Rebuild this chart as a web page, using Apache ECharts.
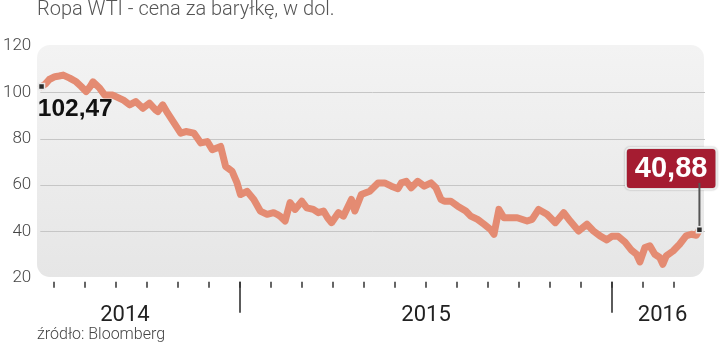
<!DOCTYPE html>
<html>
<head>
<meta charset="utf-8">
<script src="https://cdn.jsdelivr.net/npm/echarts@6/dist/echarts.min.js"></script>
<style>
html,body{margin:0;padding:0;background:#fff;}
#chart{width:720px;height:347px;}
</style>
</head>
<body>
<div id="chart"></div>
<script>
// x = month index counted from January 2014 (12 = Jan 2015, 24 = Jan 2016)
const months = [5.59,5.71,5.84,6.02,6.16,6.29,6.50,6.71,6.87,7.03,7.16,7.25,7.47,7.63,7.89,8.11,8.25,8.43,8.63,8.86,
  9.07,9.27,9.34,9.50,9.66,9.87,10.08,10.25,10.51,10.73,10.94,11.10,11.37,11.53,11.74,11.90,12.01,12.22,12.44,12.65,
  12.87,13.08,13.19,13.29,13.45,13.61,13.77,13.99,14.15,14.36,14.52,14.69,14.82,14.95,15.17,15.33,15.59,15.70,15.91,16.18,
  16.45,16.66,16.88,17.09,17.20,17.36,17.52,17.73,17.94,18.16,18.32,18.48,18.59,18.80,19.02,19.28,19.44,19.66,19.87,20.08,
  20.19,20.35,20.51,20.73,20.94,21.26,21.42,21.63,21.90,22.17,22.44,22.65,22.92,23.19,23.40,23.61,23.83,23.99,24.20,24.42,
  24.63,24.79,24.90,25.06,25.22,25.38,25.54,25.64,25.75,25.97,26.18,26.39,26.56,26.72,26.82];
// WTI price, USD per barrel
const prices = [102.47,103.5,105.5,106.7,107.0,107.4,106.1,104.5,102.5,100.3,102.5,104.5,101.7,98.8,98.8,97.4,96.5,94.6,96.0,93.1,
  95.3,92.4,91.7,94.6,91.0,86.7,82.4,83.1,82.4,78.2,78.8,75.3,76.7,68.1,66.0,61.0,56.0,57.4,53.9,48.9,
  47.5,48.2,47.5,46.7,44.6,52.5,49.6,53.1,50.3,49.6,48.2,48.9,46.0,43.9,48.2,46.7,53.9,48.9,56.0,57.4,
  61.0,61.0,59.6,58.5,61.0,61.7,58.9,61.7,59.6,61.0,58.9,53.9,53.1,53.1,51.0,48.9,46.7,45.3,43.2,41.0,
  38.9,49.6,46.0,46.0,46.0,44.6,45.3,49.6,47.5,43.9,48.2,44.6,40.3,43.2,40.3,38.2,36.5,38.0,38.0,35.5,
  32.0,30.3,27.0,33.2,33.9,30.3,28.9,26.0,29.6,31.7,34.6,38.2,38.9,38.5,40.88];
const monthTicks = [6,7,8,9,10,11,12,13,14,15,16,17,18,19,20,21,22,23,24,25,26];
const yearTicks = [12,24];
const yearLabelPos = [8.28,18,25.63];
const yearLabels = ['2014','2015','2016'];

const lineData = months.map((m,i)=>[m, prices[i]]);
const last = lineData.length - 1;
const fmt = v => v.toFixed(2).replace('.', ',');

const chart = echarts.init(document.getElementById('chart'), null, {renderer:'canvas'});
const xMin = 5.55, xMax = 27.0;
const markerStyle = {color:'#2b2b2b', borderColor:'#e8e8e8', borderWidth:1.5, opacity:1};

chart.setOption({
  animation:false,
  title:[
    {text:'Ropa WTI - cena za baryłkę, w dol.', left:37, top:0, padding:0,
     textStyle:{fontFamily:'Roboto', fontWeight:300, fontSize:20, color:'#555'}},
    {text:'źródło: Bloomberg', left:37, top:327, padding:0,
     textStyle:{fontFamily:'Roboto', fontWeight:300, fontSize:16, color:'#444'}}
  ],
  graphic:[{
    type:'rect', z:-10, silent:true,
    shape:{x:37, y:45, width:667, height:232, r:13},
    style:{fill:new echarts.graphic.LinearGradient(0,0,0,1,[
      {offset:0,color:'#f3f3f3'},{offset:1,color:'#e6e6e6'}])}
  }],
  grid:{left:37, right:15, top:45.8, bottom:68.8},
  xAxis:[{
    type:'value', min:xMin, max:xMax, offset:3.5,
    axisLine:{show:false},
    splitLine:{show:false},
    axisTick:{show:true, customValues:monthTicks, length:6, lineStyle:{color:'#333', width:1.5}},
    axisLabel:{show:true, customValues:yearLabelPos, margin:23,
      formatter:v => { const i = yearLabelPos.findIndex(p=>Math.abs(p-v)<0.01); return i<0?'':yearLabels[i]; },
      fontFamily:'Roboto', fontSize:22, color:'#222'}
  },{
    type:'value', min:xMin, max:xMax, offset:3.5, position:'bottom',
    axisLine:{show:false}, splitLine:{show:false},
    axisTick:{show:true, customValues:yearTicks, length:31, lineStyle:{color:'#333', width:1.6}},
    axisLabel:{show:false}
  }],
  yAxis:{
    type:'value', min:20, max:120, interval:20,
    axisLine:{show:false}, axisTick:{show:false},
    splitLine:{show:true, lineStyle:{color:['transparent','#c6c6c6','#c6c6c6','#c6c6c6','#c6c6c6','transparent'], width:1}},
    axisLabel:{margin:9, padding:[5,0,0,0], fontFamily:'Roboto', fontWeight:300, fontSize:17, color:'#444'}
  },
  series:[
    {type:'line', data:lineData, showSymbol:false, z:3,
     lineStyle:{width:7, color:'#e48b72', cap:'round', join:'round'}},
    {type:'scatter', data:[lineData[0]], symbol:'rect', symbolSize:6, z:5,
     itemStyle:markerStyle,
     label:{show:true, formatter:p=>fmt(p.value[1]), position:[0,14], align:'left', verticalAlign:'top',
       fontFamily:'Liberation Sans', fontWeight:'bold', fontSize:24.5, lineHeight:25, color:'#111'}},
    {type:'scatter', data:[lineData[last]], symbol:'rect', symbolSize:6, z:5,
     itemStyle:markerStyle,
     label:{show:true, position:'top', distance:0, align:'right', offset:[16,0],
       formatter:p=>'{v|' + fmt(p.value[1]) + '}\n{s|}{r|}',
       rich:{
         v:{fontFamily:'Liberation Sans', fontWeight:'bold', fontSize:29, lineHeight:29, color:'#fff',
            backgroundColor:'#a51c31', borderColor:'#f2f2f2', borderWidth:2, borderRadius:3, padding:[6,8,4,8],
            shadowColor:'rgba(0,0,0,0.3)', shadowBlur:2},
         s:{width:2, height:43, lineHeight:43, backgroundColor:'#555', align:'right'},
         r:{width:15, height:43, lineHeight:43, align:'right'}
       }}}
  ]
});
</script>
</body>
</html>
